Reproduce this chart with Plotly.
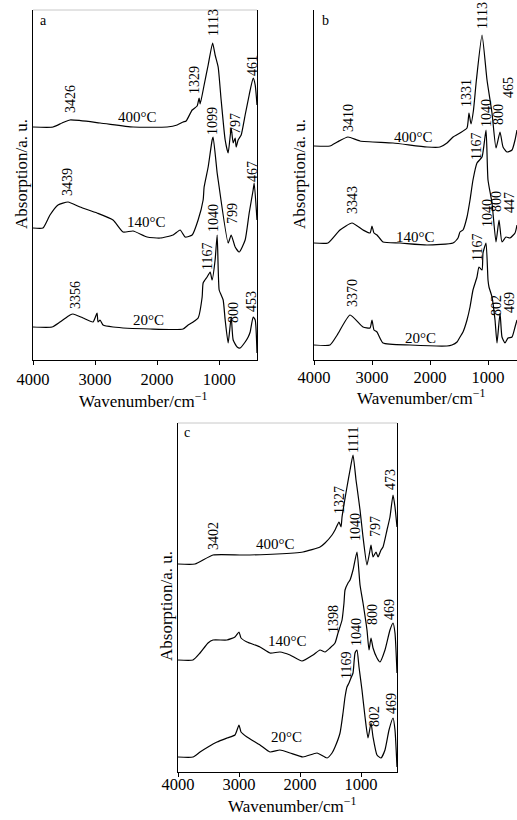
import plotly.graph_objects as go

W, H = 517, 820
FONT = "Liberation Serif, Times New Roman, serif"

# ---------------- data ----------------
# Panel a
a400_wn = [4000, 3677, 3532, 3403, 2919, 2387, 1839, 1677, 1580, 1532, 1435, 1355, 1323, 1306, 1242, 1177,
           1105, 1065, 1016, 968, 903, 855, 806, 774, 742, 726, 694, 645, 581, 516, 452, 419, 390]
a400_ab = [233, 233, 237, 240, 237, 233, 233, 235, 238, 239, 250, 254, 262, 256, 275, 295,
           317, 305, 293, 260, 220, 207, 232, 217, 222, 213, 220, 225, 245, 265, 282, 275, 255]

a140_wn = [4000, 3839, 3726, 3597, 3435, 3242, 2968, 2710, 2548, 2387, 2161, 1952, 1742, 1629, 1548, 1435,
           1339, 1258, 1242, 1177, 1113, 1097, 1032, 1016, 855, 806, 742, 677, 581, 516, 452, 435, 390]
a140_ab = [132, 132, 145, 155, 158, 153, 147, 140, 128, 129, 123, 122, 125, 130, 123, 125,
           140, 160, 173, 193, 220, 223, 187, 180, 117, 125, 113, 108, 120, 147, 170, 177, 140]

a20_wn = [4000, 3694, 3565, 3403, 3356, 3194, 3032, 2968, 2952, 2919, 2871, 2710, 2113, 1581, 1500, 1419,
          1339, 1274, 1258, 1194, 1145, 1113, 1065, 1032, 1000, 968, 935, 903, 855, 806, 774, 710, 661,
          581, 532, 500, 452, 419, 390]
a20_ab = [33, 33, 38, 45, 46, 42, 38, 47, 38, 40, 35, 33, 31, 31, 35, 38,
          42, 63, 77, 83, 88, 80, 100, 125, 70, 65, 60, 40, 17, 43, 20, 13, 12,
          18, 23, 28, 43, 40, 7]

# Panel b
b400_wn = [4000, 3724, 3600, 3414, 3207, 2638, 2052, 1828, 1707, 1603, 1483, 1362, 1328, 1293, 1250, 1200,
           1103, 1017, 931, 862, 793, 741, 672, 586, 534, 500]
b400_ab = [214, 214, 218, 223, 219, 217, 213, 213, 217, 223, 227, 232, 247, 236, 250, 280,
           325, 280, 247, 212, 228, 213, 208, 210, 220, 230]

b140_wn = [4000, 3759, 3552, 3345, 3155, 3034, 3000, 2966, 2914, 2810, 2517, 2052, 1603, 1517, 1483, 1431,
           1362, 1310, 1259, 1190, 1103, 1034, 1000, 931, 862, 810, 759, 690, 621, 534, 500]
b140_ab = [117, 117, 130, 137, 130, 127, 134, 127, 125, 118, 117, 115, 117, 122, 128, 130,
           143, 160, 180, 197, 203, 230, 180, 157, 118, 140, 118, 123, 122, 127, 135]

b20_wn = [4000, 3724, 3600, 3379, 3155, 3034, 3000, 2966, 2914, 2810, 2345, 1707, 1621, 1534, 1483, 1431,
          1362, 1310, 1259, 1190, 1155, 1103, 1086, 1034, 1000, 983, 931, 879, 845, 793, 759, 707, 655,
          586, 534, 500]
b20_ab = [15, 15, 25, 45, 33, 32, 40, 30, 28, 17, 15, 14, 15, 18, 23, 28,
          40, 53, 70, 83, 93, 90, 107, 117, 80, 73, 63, 40, 17, 47, 23, 17, 22,
          23, 33, 40]

# Panel c
c400_wn = [4000, 3721, 3426, 2934, 2377, 1951, 1672, 1590, 1475, 1426, 1361, 1328, 1311, 1230, 1180, 1131,
           1082, 1066, 1016, 967, 902, 852, 836, 803, 754, 721, 672, 639, 574, 525, 475, 443, 410]
c400_ab = [208, 208, 217, 217, 218, 220, 225, 229, 237, 242, 250, 245, 255, 285, 302, 317,
           292, 285, 262, 235, 207, 222, 227, 215, 220, 215, 222, 225, 242, 255, 277, 265, 245]

c140_wn = [4000, 3754, 3639, 3508, 3426, 3197, 3066, 3000, 2967, 2869, 2656, 2492, 2328, 2164, 1967, 1787,
           1672, 1590, 1508, 1426, 1377, 1311, 1279, 1262, 1213, 1180, 1131, 1066, 1016, 967, 902, 869,
           836, 803, 738, 689, 607, 525, 475, 443, 410]
c140_ab = [112, 112, 119, 129, 132, 132, 135, 140, 134, 130, 125, 119, 120, 117, 111, 117,
           122, 120, 124, 129, 139, 152, 169, 182, 189, 192, 202, 220, 187, 169, 142, 122,
           134, 124, 114, 110, 122, 142, 149, 139, 99]

c20_wn = [4000, 3754, 3639, 3508, 3361, 3197, 3066, 3000, 2967, 2869, 2656, 2492, 2328, 2164, 1951, 1721,
          1557, 1475, 1426, 1344, 1295, 1262, 1230, 1197, 1164, 1131, 1098, 1066, 1033, 984, 934, 885,
          836, 803, 738, 672, 607, 541, 475, 443, 410]
c20_ab = [15, 15, 20, 25, 30, 34, 37, 47, 40, 35, 27, 20, 22, 19, 15, 19,
          14, 19, 25, 39, 59, 75, 85, 89, 94, 99, 119, 122, 105, 82, 55, 34,
          49, 35, 17, 14, 22, 42, 54, 42, 5]

tick_vals = [4000, 3000, 2000, 1000]
tick_text = ["4000", "3000", "2000", "1000"]
x_title = "Wavenumber/cm<sup>\u22121</sup>"
y_title = "Absorption/a. u."

series = [
    ("a", "400°C", a400_wn, a400_ab), ("a", "140°C", a140_wn, a140_ab), ("a", "20°C", a20_wn, a20_ab),
    ("b", "400°C", b400_wn, b400_ab), ("b", "140°C", b140_wn, b140_ab), ("b", "20°C", b20_wn, b20_ab),
    ("c", "400°C", c400_wn, c400_ab), ("c", "140°C", c140_wn, c140_ab), ("c", "20°C", c20_wn, c20_ab),
]

# ---------------- layout geometry (pixels) ----------------
panels = {
    "a": dict(l=33, r=257, t=10, b=360, xend=390, ytop=350, ax="x", ay="y", mirror=True, top=True,
              xt=(143, 400), yt=(22, 174), tls=0),
    "b": dict(l=314, r=517, t=10, b=360, xend=500, ytop=350, ax="x2", ay="y2", mirror=False, top=False,
              xt=(421, 397), yt=(300, 174), tls=-2),
    "c": dict(l=178, r=397, t=423, b=772, xend=410, ytop=349, ax="x3", ay="y3", mirror=True, top=True,
              xt=(292, 805), yt=(166, 606), tls=-7),
}


def P(x, y):
    return x / W, 1 - y / H


def label(txt, x, y, size, angle=0):
    xx, yy = P(x, y)
    return dict(text=txt, x=xx, y=yy, xref="paper", yref="paper", showarrow=False,
                textangle=angle, xanchor="center", yanchor="middle",
                font=dict(family=FONT, size=size, color="black"))


fig = go.Figure()
for panel, name, wn, ab in series:
    p = panels[panel]
    fig.add_trace(go.Scatter(x=wn, y=ab, mode="lines", name=f"{panel} {name}",
                             line=dict(color="black", width=1.2, shape="spline", smoothing=0.5),
                             xaxis=p["ax"], yaxis=p["ay"], showlegend=False, hoverinfo="skip"))

layout = dict(width=W, height=H, margin=dict(l=0, r=0, t=0, b=0),
              paper_bgcolor="white", plot_bgcolor="white", showlegend=False,
              font=dict(family=FONT, color="black"))
shapes = []
annotations = []
for key, p in panels.items():
    xname = "xaxis" if p["ax"] == "x" else "xaxis" + p["ax"][1:]
    yname = "yaxis" if p["ay"] == "y" else "yaxis" + p["ay"][1:]
    layout[xname] = dict(domain=[p["l"] / W, p["r"] / W], range=[4000, p["xend"]], anchor=p["ay"],
                         tickvals=tick_vals, ticktext=tick_text, ticks="outside", ticklen=4,
                         tickcolor="black", showline=True, linecolor="black", linewidth=1.2,
                         showgrid=False, zeroline=False, tickfont=dict(family=FONT, size=16.5),
                         ticklabelstandoff=p["tls"], automargin=False)
    layout[yname] = dict(domain=[1 - p["b"] / H, 1 - p["t"] / H], range=[0, p["ytop"]], anchor=p["ax"],
                         showline=True, linecolor="black", linewidth=1.2, mirror=p["mirror"],
                         showticklabels=False, ticks="", showgrid=False, zeroline=False,
                         automargin=False)
    if p["top"]:
        shapes.append(dict(type="line", xref="paper", yref="paper",
                           x0=p["l"] / W, x1=p["r"] / W, y0=1 - p["t"] / H, y1=1 - p["t"] / H,
                           line=dict(color="#c8c8c8", width=1)))
    annotations.append(label(x_title, *p["xt"], 17))
    annotations.append(label(y_title, *p["yt"], 17, -90))

# panel letters
for txt, x, y in [("a", 43, 20), ("b", 325, 20), ("c", 187, 432)]:
    annotations.append(label(txt, x, y, 14))

# temperature labels
temps = [("400°C", 137, 117), ("140°C", 146, 222), ("20°C", 148, 320),
         ("400°C", 413, 137), ("140°C", 415, 237), ("20°C", 420, 338),
         ("400°C", 275, 544), ("140°C", 287, 641), ("20°C", 286, 737)]
for txt, x, y in temps:
    annotations.append(label(txt, x, y, 15))

# peak labels (rotated)
peaks = [("3426", 70, 99), ("1329", 195, 80), ("1113", 213, 23), ("797", 235, 124), ("461", 253, 66),
         ("3439", 68, 182), ("1099", 212, 121), ("799", 232, 214), ("467", 253, 172),
         ("3356", 75, 295), ("1167", 207, 257), ("1040", 213, 218), ("800", 233, 313), ("453", 251, 302),
         ("3410", 348, 118), ("1331", 467, 93), ("1113", 482, 16), ("800", 498, 115), ("465", 509, 88),
         ("3343", 352, 200), ("1167", 477, 147), ("1040", 486, 113), ("800", 496, 202), ("447", 509, 203),
         ("3370", 352, 293), ("1167", 477, 248), ("1040", 487, 213), ("802", 496, 306), ("469", 509, 303),
         ("3402", 213, 536), ("1327", 339, 500), ("1111", 353, 440), ("797", 375, 527), ("473", 391, 480),
         ("1398", 333, 619), ("1040", 355, 527), ("800", 372, 615), ("469", 389, 610),
         ("1169", 346, 666), ("1040", 356, 632), ("802", 374, 717), ("469", 391, 704)]
for txt, x, y in peaks:
    annotations.append(label(txt, x, y, 14, -90))

layout["shapes"] = shapes
layout["annotations"] = annotations
fig.update_layout(**layout)
fig.write_html("out.html")
